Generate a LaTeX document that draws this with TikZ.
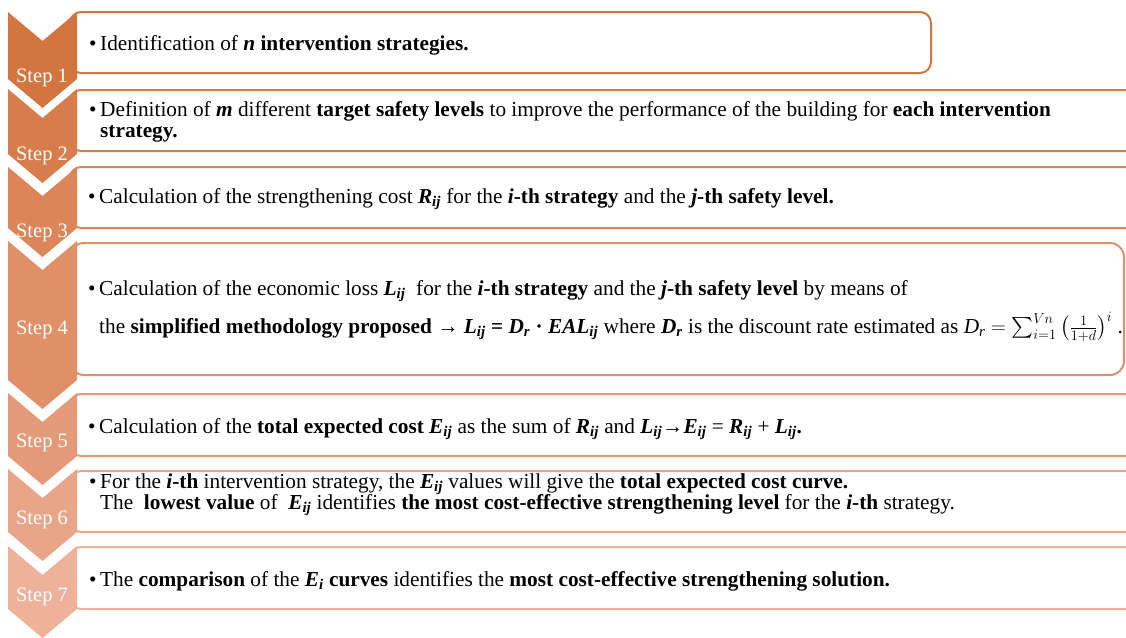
\documentclass[tikz,border=0pt]{standalone}
\usepackage{amsmath}
\usepackage{fontspec}
\setmainfont{Liberation Serif}

% shades of the step colour, darkest first
\definecolor{c1}{RGB}{211,117,62}
\definecolor{c2}{RGB}{215,125,75}
\definecolor{c3}{RGB}{219,133,88}
\definecolor{c4}{RGB}{224,143,104}
\definecolor{c5}{RGB}{228,154,120}
\definecolor{c6}{RGB}{232,165,136}
\definecolor{c7}{RGB}{237,178,153}

\newcommand\bi[1]{\textbf{\textit{#1}}}
\newcommand\vsub[2]{\bi{#1}\textsubscript{\bi{#2}}}
\newcommand\bul{\makebox[11pt][l]{•}}
\newcommand\ind{\hspace*{11pt}}
\newcommand\para[1]{\parbox[t]{1040pt}{\fontsize{21.3}{21.3}\selectfont
  \lineskiplimit=-20pt\raggedright #1}}

\begin{document}
\begin{tikzpicture}[x=1pt,y=-1pt,
  txt/.style={anchor=base west, inner sep=0pt},
  lbl/.style={anchor=base, inner sep=0pt, text=white,
    font=\fontsize{20.5}{20.5}\selectfont},
  panel/.style={draw=#1, line width=2pt, fill=white, rounded corners=11pt}]

\useasboundingbox (0,0) rectangle (1126,637);
\clip (0,0) rectangle (1126,637);

% text panels
\draw[panel=c1] (70,12)  rectangle (931,73);
\draw[panel=c2] (70,90)  rectangle (1150,151);
\draw[panel=c3] (70,167) rectangle (1150,228);
\draw[panel=c4, rounded corners=14pt] (70,243) rectangle (1124,375);
\draw[panel=c5] (70,394) rectangle (1150,456);
\draw[panel=c6] (70,471) rectangle (1150,532);
\draw[panel=c7] (70,547) rectangle (1150,609);

% chevrons: top of side, bottom of side, colour
\foreach \t/\b/\c in {12/79/c1, 89/154/c2, 167/228/c3, 241/380/c4,
                      393/456/c5, 469/532/c6, 546/609/c7}{
  \fill[\c] (8,\t) -- (42.5,\t+29) -- (77,\t) -- (77,\b)
            -- (42.5,\b+29) -- (8,\b) -- cycle;
}

% step labels
\node[lbl] (s1) at (42,82)  {Step 1};
\node[lbl] (s2) at (42,160) {Step 2};
\node[lbl] (s3) at (42,237) {Step 3};
\node[lbl] (s4) at (42,334) {Step 4};
\node[lbl] (s5) at (42,447) {Step 5};
\node[lbl] (s6) at (42,524) {Step 6};
\node[lbl] (s7) at (42,601) {Step 7};

% panel texts
\node[txt] (t1) at (89,50) {\para{\bul Identification of \bi{n} \textbf{intervention strategies.}}};

\node[txt] (t2) at (89,116) {\para{\bul Definition of \bi{m} different \textbf{target safety levels} to improve the performance of the building for \textbf{each intervention}\\
\ind\textbf{strategy.}}};

\node[txt] (t3) at (88,203) {\para{\bul Calculation of the strengthening cost \vsub{R}{ij} for the \bi{i}\textbf{-th strategy} and the \bi{j}\textbf{-th safety level.}}};

\node[txt] (t4) at (88,295) {\para{\bul Calculation of the economic loss \vsub{L}{ij}\ \ for the \bi{i}\textbf{-th strategy} and the \bi{j}\textbf{-th safety level} by means of\\[17pt]
\ind the \textbf{simplified methodology proposed} → \vsub{L}{ij} \textbf{=} \vsub{D}{r} \textbf{·} \vsub{EAL}{ij} where \vsub{D}{r} is the discount rate estimated as \textit{D}\textsubscript{\textit{r}} $= \sum_{i=1}^{Vn}\left(\frac{1}{1+d}\right)^{i}$ .}};

\node[txt] (t5) at (88,433) {\para{\bul Calculation of the \textbf{total expected cost} \vsub{E}{ij} as the sum of \vsub{R}{ij} and \vsub{L}{ij}→\vsub{E}{ij} = \vsub{R}{ij} + \vsub{L}{ij}\textbf{.}}};

\node[txt] (t6) at (89,488) {\para{\bul For the \bi{i}\textbf{-th} intervention strategy, the \vsub{E}{ij} values will give the \textbf{total expected cost curve.}\\
\ind The\ \ \textbf{lowest value} of\ \ \vsub{E}{ij} identifies \textbf{the most cost-effective strengthening level} for the \bi{i}\textbf{-th} strategy.}};

\node[txt] (t7) at (89,586) {\para{\bul The \textbf{comparison} of the \vsub{E}{i} \textbf{curves} identifies the \textbf{most cost-effective strengthening solution.}}};

\end{tikzpicture}
\end{document}
